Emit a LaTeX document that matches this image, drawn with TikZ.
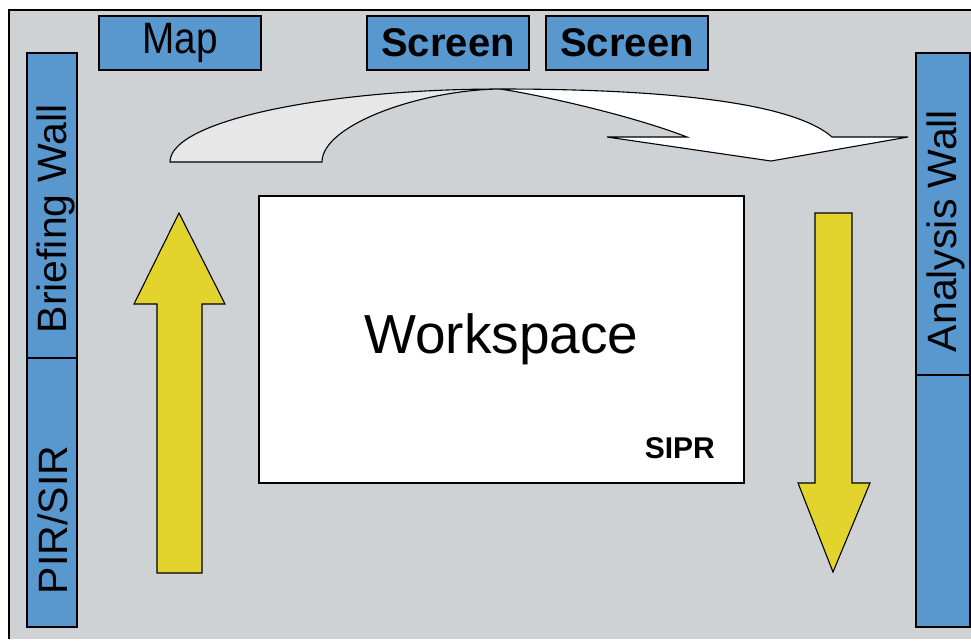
\documentclass[tikz,border=0pt]{standalone}
\usepackage{fontspec}
\setmainfont{Liberation Sans}
\definecolor{floorgray}{RGB}{207,210,213}
\definecolor{wallblue}{RGB}{88,152,207}
\definecolor{flowyellow}{RGB}{226,211,45}
\definecolor{ribbongray}{RGB}{231,231,231}
\begin{document}
\begin{tikzpicture}[x=1pt,y=-1pt,
  panel/.style={draw=black,line width=1.2pt,fill=wallblue,inner sep=0pt},
  walltext/.style={inner sep=0pt,rotate=90,font=\fontsize{41}{48}\selectfont},
  flow/.style={draw=black,line width=1.1pt,fill=flowyellow,line join=miter},
  ribbon/.style={draw=black,line width=1.1pt,line join=miter}]
\useasboundingbox (0,0) rectangle (971,641);
\fill[white] (0,0) rectangle (971,641);
\fill[floorgray] (9,10) rectangle (985,639);
\draw[line width=1.6pt] (9,639) -- (9,10) -- (985,10);
% screens and map along the top
\node[panel,minimum width=162pt,minimum height=54pt,font=\fontsize{44}{50}\selectfont] (map) at (180,43) {\scalebox{0.88}[1]{Map}};
\foreach \x/\n in {448/screenA,627/screenB}
{ \node[panel,minimum width=162pt,minimum height=54pt,font=\fontsize{40}{48}\selectfont\bfseries] (\n) at (\x,43) {Screen};};
% walls
\node[panel,minimum width=50pt,minimum height=305pt] (briefing) at (52,205.5) {};
\node[panel,minimum width=50pt,minimum height=269pt] (pirsir) at (52,492.5) {};
\node[panel,minimum width=54pt,minimum height=322pt] (analysis) at (943,214) {};
\node[panel,minimum width=54pt,minimum height=252pt] (lowerwall) at (943,501) {};
\node[walltext] (briefingtext) at (56,219) {Briefing Wall};
\node[walltext] (pirsirtext) at (53,520) {PIR/SIR};
\node[walltext] (analysistext) at (946,231) {Analysis Wall};
% workspace
\node[draw=black,line width=1.2pt,fill=white,minimum width=485pt,minimum height=287pt,
  font=\fontsize{55}{60}\selectfont] (workspace) at (501.5,339.5) {Workspace};
\node[inner sep=0pt,anchor=base east,font=\fontsize{30}{36}\selectfont\bfseries] (sipr) at (715,458) {SIPR};
% curved arrow on top
\coordinate (tailout) at (170,162);
\coordinate (tailin) at (322,162);
\coordinate (apex) at (500,89);
\coordinate (shoulderout) at (832,137);
\coordinate (barbout) at (908,137);
\coordinate (tip) at (771,161);
\coordinate (barbin) at (607,137);
\coordinate (shoulderin) at (687,137);
\draw[ribbon,fill=white] (apex) .. controls (650,89) and (790,100) .. (shoulderout) -- (barbout) -- (tip)
  -- (barbin) -- (shoulderin) .. controls (630,115) and (540,95) .. (apex) -- cycle;
\draw[ribbon,fill=ribbongray] (tailout) .. controls (170,120) and (330,89) .. (apex)
  .. controls (420,90) and (322,125) .. (tailin) -- cycle;
% yellow arrows
\draw[flow] (157,573) -- (157,304) -- (134,304) -- (179,213) -- (225,304) -- (202,304) -- (202,573) -- cycle;
\draw[flow] (815,213) -- (815,483) -- (798,483) -- (833,572) -- (870,483) -- (852,483) -- (852,213) -- cycle;
\end{tikzpicture}
\end{document}
